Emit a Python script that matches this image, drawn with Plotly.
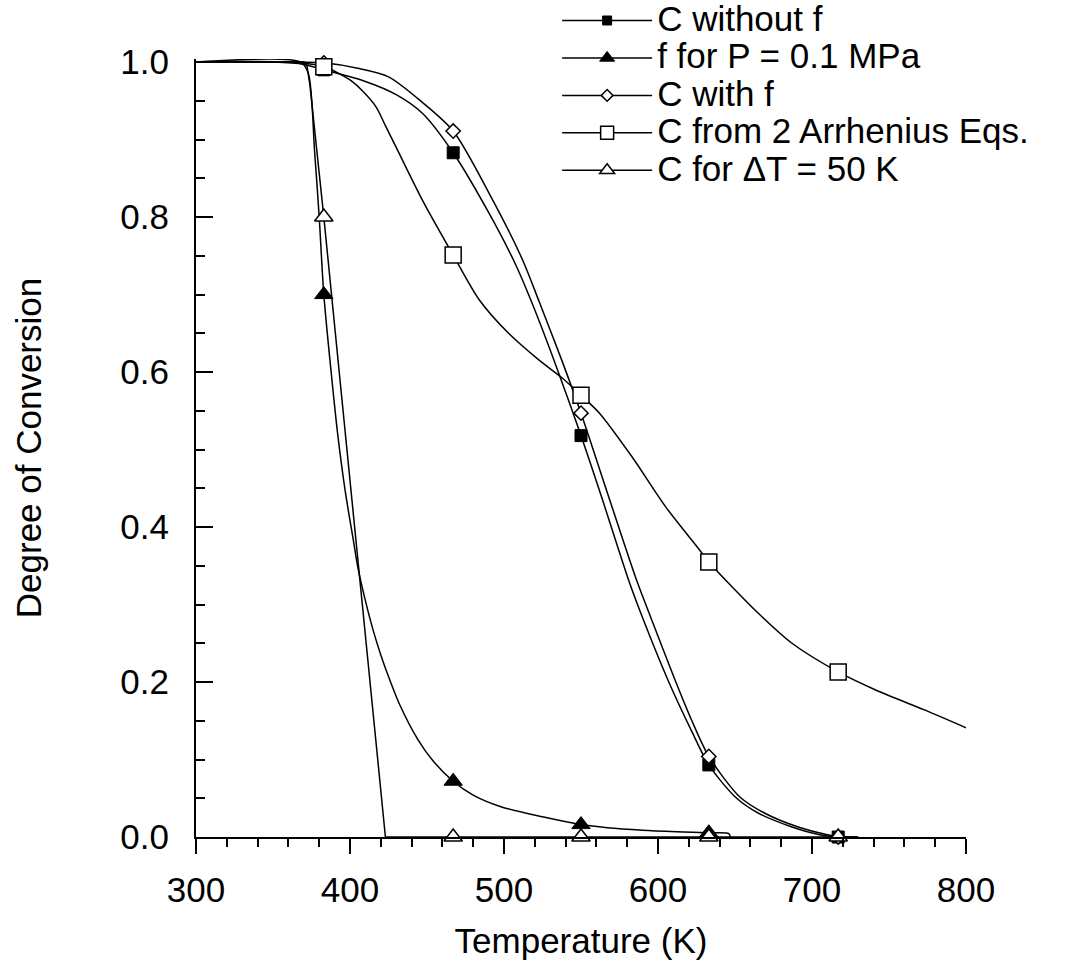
import plotly.graph_objects as go

# ---- curve data: temperature (K) vs. degree of conversion ----
T_no_f = [300, 350, 370, 383, 410, 430, 447, 467, 490, 507, 518, 534, 550, 563,
          581, 589, 607, 622, 633, 650, 665, 687, 705, 717, 728]
C_no_f = [1.0, 1.0, 0.997, 0.99, 0.975, 0.958, 0.934, 0.883, 0.806, 0.741, 0.690,
          0.607, 0.518, 0.441, 0.331, 0.288, 0.200, 0.136, 0.093, 0.052, 0.031,
          0.013, 0.003, 0.0, 0.0]

T_f01 = [300, 368, 373, 377, 380, 383, 388, 392, 397, 402, 405, 410, 415, 420,
         425, 432, 444, 454, 467, 480, 498, 525, 550, 567, 590, 612, 633, 646, 647]
F_01 = [1.0, 1.0, 0.985, 0.885, 0.80, 0.70, 0.595, 0.52, 0.445, 0.385, 0.349,
        0.305, 0.267, 0.235, 0.207, 0.172, 0.126, 0.098, 0.072, 0.054, 0.039,
        0.026, 0.016, 0.012, 0.0088, 0.0069, 0.0055, 0.0045, 0.0]

T_with_f = [300, 350, 370, 383, 405, 425, 447, 467, 490, 512, 523, 537, 550, 567,
            586, 595, 611, 622, 633, 653, 670, 691, 710, 720, 730]
C_with_f = [1.0, 1.0, 1.0, 0.999, 0.992, 0.981, 0.948, 0.911, 0.832, 0.745, 0.690,
            0.618, 0.547, 0.445, 0.332, 0.285, 0.203, 0.150, 0.104, 0.052, 0.030,
            0.013, 0.003, 0.0, 0.0]

T_arr2 = [300, 360, 383, 400, 408, 417, 423, 430, 447, 467, 484, 503, 523, 538,
          550, 562, 583, 605, 626, 633, 665, 687, 717, 741, 773, 800]
C_arr2 = [1.0, 1.0, 0.994, 0.977, 0.963, 0.942, 0.918, 0.89, 0.822, 0.751, 0.693,
          0.65, 0.615, 0.592, 0.57, 0.547, 0.491, 0.426, 0.373, 0.355, 0.289, 0.25,
          0.213, 0.19, 0.164, 0.141]

T_dT50 = [300, 370, 372, 374, 383, 394, 405.5, 418, 423, 467, 550, 633, 717, 730]
C_dT50 = [1.0, 1.0, 0.996, 0.97, 0.80, 0.58, 0.35, 0.10, 0.0, 0.0, 0.0, 0.0, 0.0, 0.0]

# ---- symbol positions along each curve ----
T_sym = [383, 467, 550, 633, 717]
C_no_f_sym = [0.99, 0.883, 0.518, 0.093, 0.0]
F_01_sym = [0.70, 0.072, 0.016, 0.0055]
C_with_f_sym = [0.999, 0.911, 0.547, 0.104, 0.0]
C_arr2_sym = [0.994, 0.751, 0.57, 0.355, 0.213]
C_dT50_sym = [0.80, 0.0, 0.0, 0.0, 0.0]

names = ["C without f", "f for P = 0.1 MPa", "C with f",
         "C from 2 Arrhenius Eqs.", "C for \u0394T = 50 K"]

FONT = "Liberation Sans, Arial, Helvetica, sans-serif"
LW = 1.5

series = [
    (T_no_f, C_no_f, T_sym, C_no_f_sym, dict(symbol="square", size=12, color="black",
                                              line=dict(color="black", width=1))),
    (T_f01, F_01, T_sym[:4], F_01_sym, dict(symbol="triangle-up", size=16, color="black",
                                            line=dict(color="black", width=1))),
    (T_with_f, C_with_f, T_sym, C_with_f_sym, dict(symbol="diamond", size=11, color="white",
                                                  line=dict(color="black", width=1.5))),
    (T_arr2, C_arr2, T_sym, C_arr2_sym, dict(symbol="square", size=16, color="white",
                                             line=dict(color="black", width=1.5))),
    (T_dT50, C_dT50, T_sym, C_dT50_sym, dict(symbol="triangle-up", size=16, color="white",
                                             line=dict(color="black", width=1.5))),
]

fig = go.Figure()

# smooth curves
for (tx, cy, _, _, _), name in zip(series, names):
    shape = "linear" if name.startswith("C for") else "spline"
    fig.add_trace(go.Scatter(x=tx, y=cy, mode="lines", showlegend=False,
                             line=dict(color="black", width=LW, shape=shape,
                                       smoothing=0.8),
                             hoverinfo="skip"))

# symbols on the curves
for (_, _, sx, sy, mk), name in zip(series, names):
    fig.add_trace(go.Scatter(x=sx, y=sy, mode="markers", showlegend=False,
                             marker=mk, cliponaxis=False, name=name))

# legend entries (large text on compact rows)
for (_, _, _, _, mk), name in zip(series, names):
    legend_mk = dict(mk)
    legend_mk["size"] = max(mk["size"] - 3, 9)
    fig.add_trace(go.Scatter(x=[None], y=[None], mode="lines+markers",
                             name='<span style="font-size:35px">' + name + "</span>",
                             line=dict(color="black", width=LW), marker=legend_mk))

fig.update_layout(
    width=1065, height=979,
    margin=dict(l=196, r=99, t=59, b=142, autoexpand=False),
    paper_bgcolor="white", plot_bgcolor="white",
    font=dict(family=FONT, size=35, color="black"),
    showlegend=True,
    legend=dict(x=0.469, y=1.08, xanchor="left", yanchor="top",
                bgcolor="rgba(0,0,0,0)", font=dict(size=26.5),
                itemwidth=90, tracegroupgap=0),
)

fig.update_xaxes(
    range=[300, 800], showgrid=False, zeroline=False,
    showline=True, linecolor="black", linewidth=2,
    ticks="outside", ticklen=15, tickwidth=2, tickcolor="black",
    dtick=100, tick0=300, ticklabelstandoff=6,
    minor=dict(ticks="outside", ticklen=8, tickwidth=1.5, tickcolor="black", dtick=20),
    title=dict(text="Temperature (K)", standoff=20, font=dict(size=35)),
)
fig.update_yaxes(
    range=[0, 1.004], showgrid=False, zeroline=False,
    showline=True, linecolor="black", linewidth=2,
    ticks="inside", ticklen=17, tickwidth=2, tickcolor="black",
    tickvals=[0, 0.2, 0.4, 0.6, 0.8, 1.0], tickformat=".1f", ticklabelstandoff=18,
    minor=dict(ticks="inside", ticklen=9, tickwidth=1.5, tickcolor="black", dtick=0.05),
    title=dict(text="Degree of Conversion", standoff=68, font=dict(size=35)),
)

fig.write_html("out.html")
